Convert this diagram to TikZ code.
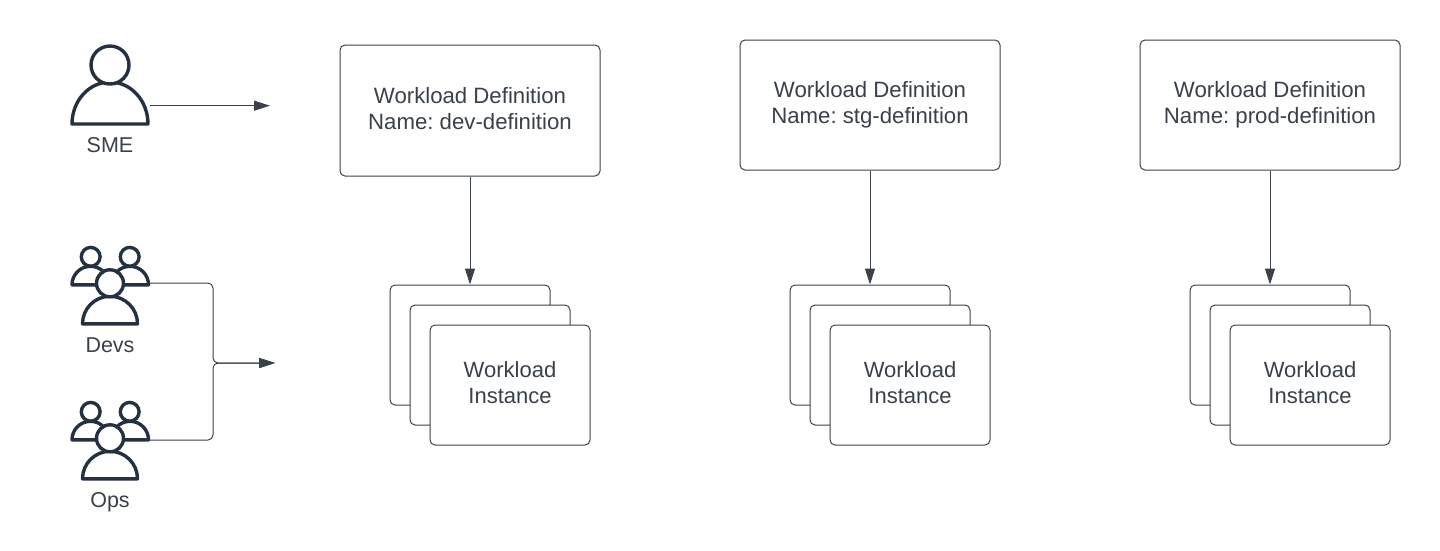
\documentclass[tikz,border=0pt]{standalone}
\usepackage{fontspec}
\setmainfont{Liberation Sans}
\usetikzlibrary{arrows.meta}
\definecolor{ink}{HTML}{3A414A}
\definecolor{icon}{HTML}{253040}
\definecolor{boxline}{HTML}{3A414A}
\tikzset{
  x=1pt,y=-1pt,
  defbox/.style={draw=boxline,line width=1pt,fill=white,rounded corners=5pt,minimum width=260pt,inner sep=0pt,align=center,text=ink,font=\frenchspacing\fontsize{22.2}{26}\selectfont},
  instbox/.style={draw=boxline,line width=1pt,fill=white,rounded corners=5pt,minimum width=160pt,minimum height=120pt,inner sep=0pt,align=center,text=ink,font=\fontsize{22}{26}\selectfont},
  lab/.style={text=ink,font=\fontsize{21.5}{24}\selectfont,inner sep=0pt,anchor=base},
  conn/.style={draw=ink,line width=1pt,rounded corners=5pt,-{Triangle[length=16pt,width=10pt]}},
  iconline/.style={draw=icon,line width=3.4pt,line cap=round,line join=round,fill=white},
  anchorbox/.style={minimum width=80pt,minimum height=10pt,inner sep=0pt,outer sep=0pt}
}
\newcommand{\person}[2]{%
  \draw[iconline] (#1-38,#2) arc[start angle=180,end angle=360,x radius=38,y radius=42] -- cycle;
  \draw[iconline] (#1,#2-59) circle[radius=19];
}
\newcommand{\group}[2]{% x centre, y of front head centre
  \draw[iconline] (#1-38,#2+1.5) arc[start angle=180,end angle=360,radius=18.5] -- cycle;
  \draw[iconline] (#1+1.5,#2+1.5) arc[start angle=180,end angle=360,radius=18.5] -- cycle;
  \draw[iconline] (#1-19.3,#2-26.5) circle[radius=9.4];
  \draw[iconline] (#1+19.7,#2-26.5) circle[radius=9.4];
  \draw[iconline] (#1-27.5,#2+40.5) arc[start angle=180,end angle=360,radius=27.5] -- cycle;
  \draw[iconline] (#1,#2) circle[radius=13.5];
}
\begin{document}
\begin{tikzpicture}
\useasboundingbox (0,0) rectangle (1440,550);
% actors
\person{110}{124}
\group{110}{283.3}
\group{110}{438.3}
\node[anchorbox] (sme) at (110,105.7) {};
\node[anchorbox] (devs) at (110,283) {};
\node[anchorbox] (ops) at (110,440) {};
\node[lab] (smelab) at (110,152) {SME};
\node[lab] (devslab) at (110,352) {Devs};
\node[lab] (opslab) at (110,507) {Ops};
\coordinate (smeend) at (270,105.7);
\coordinate (joinpt) at (213,363);
\coordinate (teamend) at (275,363);
\draw[conn] (sme.east) -- (smeend);
\draw[conn] (devs.east) -| (joinpt) -- (teamend);
\draw[conn] (ops.east) -| (joinpt) -- (teamend);
% definitions
\node[defbox,minimum height=131pt] (dev) at (470,110.5) {\raisebox{4pt}{Workload Definition}\\\raisebox{4pt}{Name: dev-definition}};
\node[defbox,minimum height=130pt] (stg) at (870,105) {Workload Definition\\Name: stg-definition};
\node[defbox,minimum height=130pt] (prod) at (1270,105) {Workload Definition\\Name: prod-definition};
% instances
\foreach \n/\x in {a/470,b/870,c/1270}{
  \node[instbox] (\n1) at (\x,345) {};
  \node[instbox] (\n2) at (\x+20,365) {};
  \node[instbox] (\n3) at (\x+40,385) {\raisebox{5pt}{Workload}\\\raisebox{5pt}{Instance}};
}
\draw[conn] (dev.south) -- (a1.north);
\draw[conn] (stg.south) -- (b1.north);
\draw[conn] (prod.south) -- (c1.north);
\end{tikzpicture}
\end{document}
